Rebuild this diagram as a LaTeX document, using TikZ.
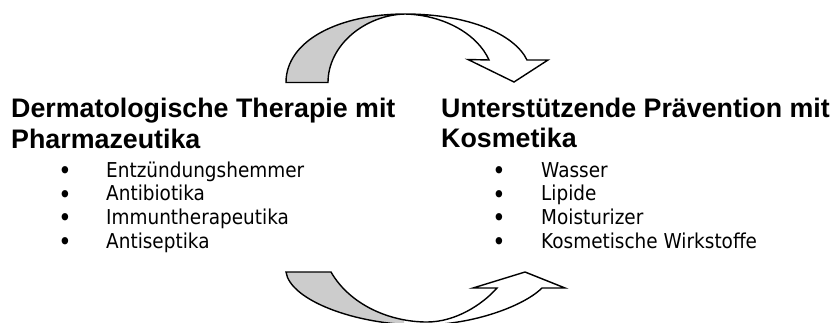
\documentclass[tikz,border=0pt]{standalone}
\usepackage{fontspec}
\setmainfont{Liberation Sans}
\newfontfamily\itemfont[FakeStretch=0.9]{DejaVu Sans}
\definecolor{ribbongray}{RGB}{204,204,204}
\begin{document}
\begin{tikzpicture}[x=1pt,y=-1pt,
  heading/.style={font=\fontsize{26.8}{31}\selectfont\bfseries, anchor=base west, inner sep=0pt},
  itemtext/.style={font=\fontsize{20.5}{24}\selectfont\itemfont, anchor=base west, inner sep=0pt},
  bulletmark/.style={font=\fontsize{25}{24}\selectfont\itemfont, anchor=base, inner sep=0pt, yshift=-2.5pt},
  ribbonline/.style={draw=black, line width=1.4pt, line join=miter},
  ribbonfill/.style={fill=ribbongray}]
\useasboundingbox (0,0) rectangle (838,322);

% headings
\node[heading] (hL1) at (11,117) {Dermatologische Therapie mit};
\node[heading] (hL2) at (11,148) {Pharmazeutika};
\node[heading] (hR1) at (441,117) {Unterstützende Prävention mit};
\node[heading] (hR2) at (441,147.5) {Kosmetika};

% left list
\foreach \t/\y/\n in {Entzündungshemmer/177/1, Antibiotika/200.7/2, Immuntherapeutika/224.3/3, Antiseptika/248/4}{
  \node[bulletmark] (bL\n) at (65,\y) {•};
  \node[itemtext] (iL\n) at (106,\y) {\t};
}
% right list
\foreach \t/\y/\n in {Wasser/177/1, Lipide/200.7/2, Moisturizer/224.3/3, Kosmetische Wirkstoffe/248/4}{
  \node[bulletmark] (bR\n) at (499,\y) {•};
  \node[itemtext] (iR\n) at (541,\y) {\t};
}

% top ribbon arrow: gray back part
\path[ribbonfill, ribbonline] (286,82.5) .. controls (286,40) and (340,14) .. (405,14)
  .. controls (365,15) and (328,45) .. (328,82.5) -- cycle;
% top ribbon arrow: white front part with head
\path[fill=white, ribbonline] (405,14) .. controls (470,14) and (515,35) .. (527,60)
  -- (548,60) -- (514,82) -- (468,59.5) -- (489,60)
  .. controls (478,35) and (445,15) .. (405,14) -- cycle;

% bottom ribbon arrow
\def\bottomribbon{(286,272) -- (331,272)
  .. controls (350,305) and (390,322) .. (427,322)
  .. controls (455,322) and (482,305) .. (497,288)
  -- (473,288) -- (525,272) -- (565,288) -- (542,288)
  .. controls (525,305) and (475,325) .. (421,325)
  .. controls (355,325) and (290,300) .. (286,272) -- cycle}
\fill[white] \bottomribbon;
\begin{scope}
  \clip (0,0) rectangle (404,330);
  \fill[ribbongray] \bottomribbon;
\end{scope}
\path[ribbonline] \bottomribbon;
\end{tikzpicture}
\end{document}
